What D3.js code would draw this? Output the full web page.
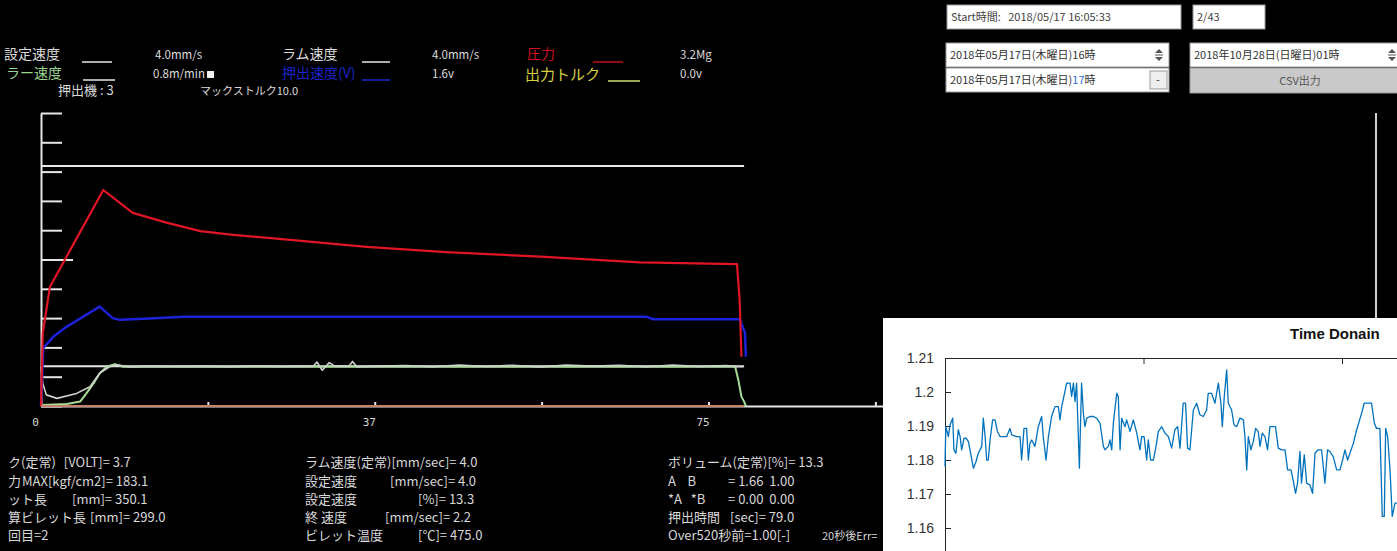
<!DOCTYPE html>
<html>
<head>
<meta charset="utf-8">
<script src="https://cdn.jsdelivr.net/npm/d3@7"></script>
<style>
body { margin: 0; background: #000; overflow: hidden; }
text { font-family: "Noto Sans CJK JP", "Noto Sans", sans-serif; }
</style>
</head>
<body>
<svg id="screen"></svg>
<script>
// ---- trend data (x = seconds, y = 0..10 screen units) ----
var pressureT = [0, 0.2, 1.0, 3.6, 7.0, 7.75, 10.3, 14.2, 17.9, 21.6, 28.0, 36.6, 45.5, 56.1, 67.3, 78.2, 78.5, 78.7];
var pressureV = [0, 2.49, 4.06, 5.5, 7.37, 7.2, 6.59, 6.25, 5.97, 5.84, 5.67, 5.43, 5.25, 5.10, 4.90, 4.84, 3.62, 1.68];

var ramT = [0, 0.25, 1.4, 2.9, 4.75, 6.6, 8.1, 8.9, 12.2, 16, 44.8, 68, 68.8, 78.5, 79.1, 79.2];
var ramV = [0, 1.98, 2.37, 2.71, 3.05, 3.39, 2.99, 2.94, 2.99, 3.05, 3.05, 3.05, 2.96, 2.96, 2.49, 1.68];

var speedT = [0, 0.2, 0.6, 1.8, 4.0, 5.5, 6.6, 7.7, 8.7, 10, 12, 15, 18, 21, 24, 27, 30.6, 31, 31.6, 32.4,
              33, 34.6, 35, 35.5, 38, 41, 44, 47, 50, 53, 56, 59, 62, 65, 68, 71, 74, 77, 78.2, 78.9];
var speedV = [1.34, 0.77, 0.38, 0.26, 0.43, 0.66, 1.12, 1.34, 1.40, 1.33, 1.36, 1.35, 1.36, 1.34, 1.36, 1.35, 1.36, 1.50, 1.22, 1.48,
              1.36, 1.36, 1.52, 1.34, 1.36, 1.38, 1.34, 1.40, 1.35, 1.39, 1.33, 1.40, 1.36, 1.39, 1.34, 1.40, 1.35, 1.38, 1.34, 1.34];

var pullerT = [0, 2.9, 4.4, 5.1, 5.9, 6.6, 7.4, 8.3, 9.2, 78.0, 78.35, 78.7, 79.0, 79.2];
var pullerV = [0.03, 0.07, 0.15, 0.43, 0.77, 1.12, 1.34, 1.43, 1.34, 1.34, 0.89, 0.32, 0.15, 0];

var setSpeedT = [0, 79.0];
var setSpeedV = [1.36, 1.36];
var upperT = [0, 79.0];
var upperV = [8.19, 8.19];
var torqueT = [0, 79.0];
var torqueV = [0, 0];

var xTickValues = [0, 18.75, 37.5, 56.25, 75, 93.75, 112.5, 131.25, 150];
var xLabelValues = [0, 37.5, 75, 112.5, 150];

// ---- legend / info texts (only the part visible on screen) ----
var legendRow1 = ["設定速度", "4.0mm/s", "ラム速度", "4.0mm/s", "圧力", "3.2Mg"];
var legendRow2 = ["ラー速度", "0.8m/min", "押出速度(V)", "1.6v", "出力トルク", "0.0v"];
var legendRow3 = ["押出機 : 3", "マックストルク10.0"];

var info1 = [["ク(定常)", "[VOLT]= 3.7"], ["力", "MAX[kgf/cm2]= 183.1"], ["ット長", "[mm]= 350.1"],
             ["算ビレット長", "[mm]= 299.0"], ["回目", "=2"]];
var info2 = [["ラム速度(定常)[mm/sec]= 4.0", ""], ["設定速度", "[mm/sec]= 4.0"], ["設定速度", "[%]= 13.3"],
             ["終 速度", "[mm/sec]= 2.2"], ["ビレット温度", "[℃]= 475.0"]];
var info3 = [["ボリューム(定常)[%]= 13.3", ""], ["A    B", "= 1.66  1.00"], ["*A   *B", "= 0.00  0.00"],
             ["押出時間", "[sec]= 79.0"], ["Over520秒前=1.00[-]", "20秒後Err="]];

var startText = "Start時間:   2018/05/17 16:05:33";
var pageText = "2/43";
var fromText = "2018年05月17日(木曜日)16時";
var toTextA = "2018年05月17日(木曜日)";
var toTextB = "17";
var toTextC = "時";
var endText = "2018年10月28日(日曜日)01時";
var csvText = "CSV出力";

// ---- inset "Time Donain" data ----
var tdT = [0, 0.4, 0.8, 1.7, 2.5, 3.9, 4.5, 5.5, 6.7, 7.6, 8.4, 9.6, 10.6, 11.8, 12.9, 14.3, 15.6, 16.8, 18.5, 19.3,
  20.2, 21.0, 21.8, 22.7, 24.0, 25.2, 26.4, 27.7, 31.1, 32.7, 33.6, 36.1, 37.8, 38.6, 39.8, 41.1, 42.0, 42.8, 43.7, 45.3,
  47.0, 48.7, 49.5, 50.9, 52.1, 53.7, 55.4, 57.1, 57.9, 58.8, 59.9, 61.3, 63.0, 63.8, 64.7, 65.5, 66.3, 67.7, 68.8, 69.7,
  70.5, 71.4, 73.0, 74.7, 76.4, 78.1, 79.8, 80.6, 82.3, 83.1, 84.0, 84.8, 86.5, 87.3, 88.2, 89.0, 90.7, 91.5, 93.2, 94.9,
  96.6, 98.2, 99.1, 100.3, 101.6, 102.4, 103.6, 105.0, 106.3, 107.5, 109.2, 110.8, 112.5, 114.2, 115.8, 117.2, 118.4, 120.0, 121.2, 122.2,
  123.4, 125.1, 126.8, 128.4, 130.1, 131.8, 132.6, 134.3, 136.0, 137.7, 139.0, 139.7, 140.7, 141.9, 142.7, 144.4, 145.6, 146.9, 148.6, 150.3,
  151.1, 152.0, 152.8, 154.1, 155.3, 156.5, 157.8, 158.7, 159.8, 161.2, 162.5, 163.7, 165.4, 166.5, 167.9, 169.6, 171.3, 172.6, 174.3, 175.5,
  176.6, 177.6, 178.8, 179.6, 181.0, 182.2, 183.8, 185.2, 186.4, 188.0, 189.7, 191.4, 192.7, 193.9, 195.6, 197.3, 199.0, 200.3, 201.5, 202.8,
  204.0, 205.7, 207.4, 209.9, 211.2, 214.9, 216.3, 217.4, 219.1, 220.3, 221.3, 222.0, 223.0, 224.2, 225.3, 226.7, 227.7];
var tdV = [1.1781, 1.1898, 1.1889, 1.1869, 1.1903, 1.1923, 1.1830, 1.1820, 1.1889, 1.1869, 1.1830, 1.1864, 1.1864, 1.1854, 1.1820, 1.1776, 1.1795, 1.1820, 1.1840, 1.1923,
  1.1869, 1.1800, 1.1800, 1.1859, 1.1918, 1.1918, 1.1884, 1.1869, 1.1869, 1.1893, 1.1874, 1.1869, 1.1869, 1.1800, 1.1893, 1.1893, 1.1800, 1.1849, 1.1859, 1.1840,
  1.1898, 1.1928, 1.1869, 1.1800, 1.1869, 1.1928, 1.1957, 1.1957, 1.1918, 1.1957, 1.1987, 1.2026, 1.2026, 1.1987, 1.2026, 1.1972, 1.2026, 1.1776, 1.2026, 1.1938,
  1.1898, 1.1923, 1.1928, 1.1928, 1.1923, 1.1908, 1.1840, 1.1830, 1.1840, 1.1859, 1.1830, 1.1908, 1.1996, 1.1987, 1.1830, 1.1923, 1.1898, 1.1918, 1.1884, 1.1918,
  1.1879, 1.1830, 1.1869, 1.1869, 1.1800, 1.1859, 1.1800, 1.1800, 1.1840, 1.1884, 1.1898, 1.1879, 1.1869, 1.1835, 1.1889, 1.1898, 1.1835, 1.1967, 1.1967, 1.1835,
  1.1830, 1.1947, 1.1967, 1.1933, 1.1928, 1.1947, 1.1996, 1.1996, 1.1967, 1.2026, 1.1967, 1.1898, 1.1987, 1.2065, 1.1967, 1.1947, 1.1903, 1.1898, 1.1923, 1.1918,
  1.1869, 1.1771, 1.1869, 1.1830, 1.1854, 1.1893, 1.1884, 1.1840, 1.1879, 1.1869, 1.1830, 1.1898, 1.1898, 1.1898, 1.1835, 1.1830, 1.1830, 1.1771, 1.1771, 1.1737,
  1.1702, 1.1732, 1.1825, 1.1732, 1.1815, 1.1732, 1.1727, 1.1702, 1.1820, 1.1830, 1.1830, 1.1732, 1.1830, 1.1825, 1.1810, 1.1771, 1.1771, 1.1800, 1.1830, 1.1800,
  1.1820, 1.1849, 1.1889, 1.1938, 1.1967, 1.1967, 1.1908, 1.1893, 1.1893, 1.1634, 1.1634, 1.1893, 1.1869, 1.1771, 1.1634, 1.1673, 1.1673];
var tdYTicks = [1.16, 1.17, 1.18, 1.19, 1.2, 1.21];
var tdXTicks = [0, 100, 200];

function pairs(t, v) { return t.map(function(d, i) { return [d, v[i]]; }); }

var svg = d3.select("#screen").attr("width", 1397).attr("height", 551);
svg.append("rect").attr("width", 1397).attr("height", 551).attr("fill", "#000");

//////////////////////////////////////////////////////////////////////
// main trend scales
var x = d3.scaleLinear().domain([0, 150]).range([41, 1376]);
var y = d3.scaleLinear().domain([0, 10]).range([406, 113]);
var line = d3.line().x(d => x(d[0])).y(d => y(d[1]));

// y axis, ticks pointing into the plot
svg.append("g")
  .attr("transform", "translate(" + x(0) + ",0)")
  .call(d3.axisRight(y).ticks(10).tickSize(21).tickSizeOuter(0).tickFormat(""))
  .call(g => g.selectAll("line, path").attr("stroke", "#e6e6e6").attr("stroke-width", 2))
  .call(g => g.selectAll(".tick").filter(d => d === 5).select("line").attr("x2", 32));

// x axis with small upward ticks
svg.append("g")
  .attr("transform", "translate(0," + y(0) + ")")
  .call(d3.axisTop(x).tickValues(xTickValues).tickSize(4).tickSizeOuter(0).tickFormat(""))
  .call(g => g.selectAll("line, path").attr("stroke", "#e6e6e6").attr("stroke-width", 2));

svg.append("g")
  .attr("transform", "translate(-6," + y(0) + ")")
  .call(d3.axisBottom(x).tickValues(xLabelValues).tickSize(0).tickPadding(12).tickFormat(d => Math.floor(d)))
  .call(g => g.select(".domain").remove())
  .call(g => g.selectAll("text").attr("fill", "#d8d8d8").style("font-size", "11px")
    .style("font-family", "'DejaVu Sans Mono', monospace"));

// right border of the trend area
svg.append("line")
  .attr("x1", x(150)).attr("x2", x(150)).attr("y1", y(10)).attr("y2", y(0))
  .attr("stroke", "#cfcfcf").attr("stroke-width", 2);

// trend lines
var series = [
  { t: upperT, v: upperV, color: "#e8e8e8", w: 2 },
  { t: setSpeedT, v: setSpeedV, color: "#e8e8e8", w: 2 },
  { t: pullerT, v: pullerV, color: "#a6dc98", w: 2 },
  { t: speedT, v: speedV, color: "#d0d0d0", w: 1.6 },
  { t: ramT, v: ramV, color: "#1c22d8", w: 2.5 },
  { t: pressureT, v: pressureV, color: "#e01525", w: 2.2 },
  { t: torqueT, v: torqueV, color: "#c8826c", w: 2 }
];
svg.append("g").selectAll("path")
  .data(series)
  .join("path")
    .attr("d", s => line(pairs(s.t, s.v)))
    .attr("fill", "none")
    .attr("stroke", s => s.color)
    .attr("stroke-width", s => s.w)
    .attr("stroke-linejoin", "round");

//////////////////////////////////////////////////////////////////////
// legend
var lg = svg.append("g");
function label(g, txt, xPos, yPos, color, size, anchor) {
  return g.append("text").attr("x", xPos).attr("y", yPos).attr("fill", color)
    .attr("text-anchor", anchor || "start").style("font-size", size + "px").text(txt);
}
function swatch(g, x1, x2, yPos, color) {
  g.append("line").attr("x1", x1).attr("x2", x2).attr("y1", yPos).attr("y2", yPos)
    .attr("stroke", color).attr("stroke-width", 1.5);
}
label(lg, legendRow1[0], 4, 59, "#dcdcdc", 14);
swatch(lg, 82, 112, 62, "#e8e8e8");
label(lg, legendRow1[1], 155, 59, "#dcdcdc", 11.5);
label(lg, legendRow1[2], 282, 59, "#dcdcdc", 14);
swatch(lg, 362, 390, 62, "#e8e8e8");
label(lg, legendRow1[3], 432, 59, "#dcdcdc", 11.5);
label(lg, legendRow1[4], 527, 59, "#d01020", 14);
swatch(lg, 593, 623, 62, "#c01018");
label(lg, legendRow1[5], 680, 59, "#dcdcdc", 11.5);

label(lg, legendRow2[0], 6, 78, "#9cd690", 14);
swatch(lg, 83, 115, 80, "#e8e8e8");
label(lg, legendRow2[1], 153, 78, "#dcdcdc", 11.5);
lg.append("rect").attr("x", 207).attr("y", 71).attr("width", 7).attr("height", 7).attr("fill", "#f0f0f0");
label(lg, legendRow2[2], 282, 78, "#1a24c8", 14);
swatch(lg, 362, 390, 80, "#1a24c8");
label(lg, legendRow2[3], 432, 78, "#dcdcdc", 11.5);
label(lg, legendRow2[4], 525, 80, "#d6d040", 15);
swatch(lg, 608, 640, 81, "#c8e070");
label(lg, legendRow2[5], 680, 78, "#dcdcdc", 11.5);

label(lg, legendRow3[0], 58, 95, "#dcdcdc", 13);
label(lg, legendRow3[1], 200, 95, "#dcdcdc", 11);

//////////////////////////////////////////////////////////////////////
// info block under the trend
var rowY = [467, 486, 504, 522, 540];
var ig = svg.append("g");
// label, then the unit/value part a little to the right of it
function infoRow(r, xPos, unitX, gap, yPos, unitSize) {
  var a = label(ig, r[0], xPos, yPos, "#d8d8d8", 13).attr("xml:space", "preserve");
  if (!r[1]) return;
  var end = xPos + a.node().getComputedTextLength() + gap;
  label(ig, r[1], Math.max(unitX, end), yPos, "#d8d8d8", unitSize || 13).attr("xml:space", "preserve");
}
var col1Units = [54, 22, 72, 86, 29];
var col1Gaps = [8, 0, 6, 4, 0];
info1.forEach(function(r, i) { infoRow(r, 8, col1Units[i], col1Gaps[i], rowY[i]); });
var col2Units = [0, 390, 418, 385, 418];
info2.forEach(function(r, i) { infoRow(r, 305, col2Units[i], 6, rowY[i]); });
var col3Units = [0, 728, 728, 730, 822];
info3.forEach(function(r, i) { infoRow(r, 668, col3Units[i], 6, rowY[i], i === 4 ? 11 : 13); });

//////////////////////////////////////////////////////////////////////
// controls, top right
var cg = svg.append("g").style("font-size", "11px");
function box(xPos, yPos, w, h, fill) {
  cg.append("rect").attr("x", xPos).attr("y", yPos).attr("width", w).attr("height", h)
    .attr("fill", fill || "#fff").attr("stroke", "#9a9a9a").attr("stroke-width", 1);
}
function spinner(xPos, yPos) {
  cg.append("path").attr("d", "M" + xPos + "," + (yPos + 4) + "l4,-4l4,4z").attr("fill", "#555");
  cg.append("line").attr("x1", xPos).attr("x2", xPos + 8).attr("y1", yPos + 6).attr("y2", yPos + 6).attr("stroke", "#555");
  cg.append("path").attr("d", "M" + xPos + "," + (yPos + 8) + "l4,4l4,-4z").attr("fill", "#555");
}
box(947, 5, 234, 24);
cg.append("text").attr("x", 951).attr("y", 21).attr("fill", "#444").attr("xml:space", "preserve").text(startText);
box(1193, 5, 72, 24);
cg.append("text").attr("x", 1197).attr("y", 21).attr("fill", "#444").text(pageText);

box(946, 43, 223, 24);
cg.append("text").attr("x", 950).attr("y", 59).attr("fill", "#333").text(fromText);
spinner(1155, 49);
box(946, 68, 223, 24);
var t2 = cg.append("text").attr("x", 950).attr("y", 84).attr("fill", "#333");
t2.append("tspan").text(toTextA);
t2.append("tspan").attr("fill", "#1f6fe0").text(toTextB);
t2.append("tspan").text(toTextC);
box(1150, 71, 17, 18, "#eee");
cg.append("text").attr("x", 1158).attr("y", 84).attr("text-anchor", "middle").attr("fill", "#333").text("-");

box(1190, 43, 220, 24);
cg.append("text").attr("x", 1194).attr("y", 59).attr("fill", "#333").text(endText);
spinner(1388, 49);
box(1190, 68, 220, 25, "#c9c9c9");
cg.append("text").attr("x", 1300).attr("y", 85).attr("text-anchor", "middle").attr("fill", "#555").text(csvText);

//////////////////////////////////////////////////////////////////////
// inset: Time Donain plot
var inset = svg.append("g");
inset.append("rect").attr("x", 883).attr("y", 318).attr("width", 514).attr("height", 233).attr("fill", "#fff");

var tx = d3.scaleLinear().domain([0, 230]).range([945, 945 + 230 * 1.985]);
var ty = d3.scaleLinear().domain([1.14, 1.21]).range([596, 358]);

inset.append("g")
  .attr("transform", "translate(" + tx(0) + ",0)")
  .call(d3.axisLeft(ty).tickValues(tdYTicks).tickSize(-6).tickSizeOuter(0).tickPadding(11)
    .tickFormat(d => String(+d.toFixed(2))))
  .call(g => g.selectAll("line, path").attr("stroke", "#262626"))
  .call(g => g.selectAll("text").attr("fill", "#333").style("font-size", "14px")
    .style("font-family", "'Liberation Sans', Arial, sans-serif"));

inset.append("g")
  .attr("transform", "translate(0," + ty(1.21) + ")")
  .call(d3.axisTop(tx).tickValues(tdXTicks).tickSize(-6).tickSizeOuter(0).tickFormat(""))
  .call(g => g.selectAll("line, path").attr("stroke", "#262626"));

inset.append("path")
  .datum(pairs(tdT, tdV))
  .attr("d", d3.line().x(d => tx(d[0])).y(d => ty(d[1])))
  .attr("fill", "none")
  .attr("stroke", "#0072bd")
  .attr("stroke-width", 1.3)
  .attr("stroke-linejoin", "round");

inset.append("text")
  .attr("x", 1290).attr("y", 339)
  .attr("fill", "#111")
  .style("font-family", "'Liberation Sans', Arial, sans-serif")
  .style("font-weight", "bold").style("font-size", "15px")
  .text("Time Donain");
</script>
</body>
</html>
